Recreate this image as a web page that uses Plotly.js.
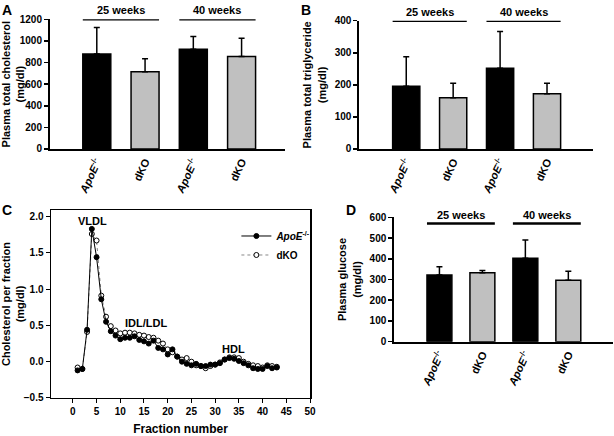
<!DOCTYPE html>
<html>
<head>
<meta charset="utf-8">
<script src="https://cdn.plot.ly/plotly-3.0.1.min.js"></script>
<style>html,body{margin:0;padding:0;background:#fff;}#chart{width:614px;height:436px;}</style>
</head>
<body>
<div id="chart"></div>
<script>
// ---- data ----
var barLabels = ["<i>ApoE</i><sup>-/-</sup>", "dKO", "<i>ApoE</i><sup>-/-</sup>", "dKO"];
var groupLabels = ["25 weeks", "40 weeks"];
var barColors = ["#000000", "#c0c0c0", "#000000", "#c0c0c0"];

var cholMean = [880, 715, 922, 855];
var cholErr  = [245, 120, 120, 170];

var tgMean = [196, 160, 252, 172];
var tgErr  = [92, 45, 114, 33];

var gluMean = [322, 333, 403, 296];
var gluErr  = [40, 10, 88, 44];

var fractions = [1,2,3,4,5,6,7,8,9,10,11,12,13,14,15,16,17,18,19,20,21,22,23,24,25,26,27,28,29,30,31,32,33,34,35,36,37,38,39,40,41,42,43];
var apoeFrac = [-0.12,-0.10,0.44,1.83,1.44,0.86,0.55,0.42,0.36,0.31,0.33,0.33,0.35,0.30,0.28,0.25,0.29,0.19,0.17,0.10,0.17,0.07,0.00,-0.03,-0.05,-0.03,-0.06,-0.06,-0.04,-0.04,-0.02,0.03,0.05,0.04,0.01,-0.02,-0.05,-0.09,-0.10,-0.10,-0.06,-0.09,-0.08];
var dkoFrac  = [-0.08,-0.10,0.41,1.76,1.67,0.91,0.62,0.49,0.43,0.39,0.40,0.40,0.39,0.37,0.36,0.34,0.33,0.29,0.25,0.17,0.13,0.07,0.03,0.05,0.00,-0.05,-0.06,-0.09,-0.06,-0.04,-0.01,0.03,0.06,0.06,0.05,0.00,-0.03,-0.05,-0.06,-0.08,-0.05,-0.06,-0.07];

var peakLabels = [{t:"VLDL", x:4.2, y:1.94}, {t:"IDL/LDL", x:15.5, y:0.54}, {t:"HDL", x:33.8, y:0.18}];

// ---- layout helpers ----
var FONT = "Liberation Sans, Arial, sans-serif";
var idx = [0,1,2,3];
var bw = 0.58;

function barTrace(vals, errs, xa, ya) {
  return {
    type: "bar", x: idx, y: vals, xaxis: xa, yaxis: ya, width: bw,
    marker: {color: barColors, line: {color: "#000", width: 1.5}},
    error_y: {type: "data", symmetric: false, array: errs, arrayminus: errs.map(function(){return 0;}),
              color: "#000", thickness: 1.5, width: 3},
    showlegend: false, hoverinfo: "none"
  };
}

function barXAxis(domain, range, anchor) {
  return {domain: domain, range: range, anchor: anchor, tickmode: "array", tickvals: idx, ticktext: barLabels,
          tickangle: -65, ticks: "", showgrid: false, zeroline: false, showline: true, linecolor: "#000", linewidth: 2,
          tickfont: {family: FONT, size: 11, weight: "bold", color: "#000"}, fixedrange: true};
}
function barYAxis(domain, range, dtick, anchor, title) {
  return {domain: domain, range: range, anchor: anchor, dtick: dtick, ticks: "outside", ticklen: 4, tickwidth: 1.5,
          tickcolor: "#000", showgrid: false, zeroline: false, showline: true, linecolor: "#000", linewidth: 2,
          tickfont: {family: FONT, size: 10, weight: "bold", color: "#000"},
          title: {text: title, font: {family: FONT, size: 11, weight: "bold", color: "#000"}, standoff: 6}};
}

var shapes = [], annotations = [];
function brackets(xref, yref, yval) {
  groupLabels.forEach(function(g, k) {
    var i0 = 2*k, i1 = 2*k+1;
    shapes.push({type: "line", xref: xref, yref: yref, x0: i0 - bw/2, x1: i1 + bw/2, y0: yval, y1: yval,
                 line: {color: "#000", width: 2.5}});
    annotations.push({xref: xref, yref: yref, x: (i0 + i1)/2, y: yval, text: g, showarrow: false,
                      yanchor: "bottom", yshift: 1, font: {family: FONT, size: 11, weight: "bold", color: "#000"}});
  });
}
brackets("x", "y", 1200);
brackets("x2", "y2", 400);
brackets("x4", "y4", 570);

[["A",0.0,1.0],["B",0.487,1.0],["C",0.0,0.542],["D",0.56,0.542]].forEach(function(p){
  annotations.push({xref:"paper", yref:"paper", x:p[1], y:p[2], xanchor:"left", yanchor:"top", text:p[0],
                    showarrow:false, font:{family:FONT, size:14, weight:"bold", color:"#000"}});
});
peakLabels.forEach(function(p){
  annotations.push({xref:"x3", yref:"y3", x:p.x, y:p.y, text:p.t, showarrow:false,
                    font:{family:FONT, size:11, weight:"bold", color:"#000"}});
});

var traces = [
  barTrace(cholMean, cholErr, "x", "y"),
  barTrace(tgMean, tgErr, "x2", "y2"),
  barTrace(gluMean, gluErr, "x4", "y4"),
  {type: "scatter", mode: "lines+markers", x: fractions, y: dkoFrac, xaxis: "x3", yaxis: "y3", name: "dKO",
   line: {color: "#888", width: 1, dash: "dot"}, marker: {symbol: "circle", size: 5, color: "#fff", line: {color: "#000", width: 1}}},
  {type: "scatter", mode: "lines+markers", x: fractions, y: apoeFrac, xaxis: "x3", yaxis: "y3", name: "<i>ApoE</i><sup>-/-</sup>",
   line: {color: "#000", width: 1}, marker: {symbol: "circle", size: 5, color: "#000", line: {color: "#000", width: 1}}}
];

var layout = {
  width: 614, height: 436, margin: {l: 0, r: 0, t: 0, b: 0},
  paper_bgcolor: "#fff", plot_bgcolor: "#fff",
  font: {family: FONT, color: "#000"},
  bargap: 0,
  xaxis:  barXAxis([0.0814, 0.4642], [-0.97, 3.9], "y"),
  yaxis:  barYAxis([0.6583, 0.9557], [0, 1200], 200, "x", "Plasma total cholesterol<br>(mg/dl)"),
  xaxis2: barXAxis([0.5852, 0.9658], [-1.0, 3.98], "y2"),
  yaxis2: barYAxis([0.6583, 0.9525], [0, 400], 100, "x2", "Plasma total triglyceride<br>(mg/dl)"),
  xaxis4: barXAxis([0.6422, 0.9984], [-1.05, 4.04], "y4"),
  yaxis4: barYAxis([0.2163, 0.5016], [0, 600], 100, "x4", "Plasma glucose<br>(mg/dl)"),
  xaxis3: {domain: [0.0831, 0.5049], range: [-4.6, 50], anchor: "y3", dtick: 5, tick0: 0, ticks: "outside", ticklen: 4,
           tickcolor: "#000", showgrid: false, zeroline: false, showline: true, mirror: true, linecolor: "#000", linewidth: 1.5,
           tickfont: {family: FONT, size: 10, weight: "bold", color: "#000"},
           title: {text: "Fraction number", font: {family: FONT, size: 12, weight: "bold", color: "#000"}, standoff: 10}},
  yaxis3: {domain: [0.0872, 0.5183], range: [-0.5, 2.09], anchor: "x3", tickvals: [-0.5,0,0.5,1,1.5,2], tickformat: ".1f",
           ticks: "outside", ticklen: 4, tickcolor: "#000", showgrid: false, zeroline: false, showline: true, mirror: true,
           linecolor: "#000", linewidth: 1.5, tickfont: {family: FONT, size: 10, weight: "bold", color: "#000"},
           title: {text: "Cholesterol per fraction<br>(mg/dl)", font: {family: FONT, size: 11, weight: "bold", color: "#000"}, standoff: 6}},
  legend: {x: 0.385, y: 0.492, xanchor: "left", yanchor: "top", traceorder: "reversed", bgcolor: "rgba(0,0,0,0)",
           font: {family: FONT, size: 10, weight: "bold", color: "#000"}, itemwidth: 30, tracegroupgap: 0},
  shapes: shapes, annotations: annotations
};

Plotly.newPlot("chart", traces, layout, {staticPlot: true, displayModeBar: false});
</script>
</body>
</html>
